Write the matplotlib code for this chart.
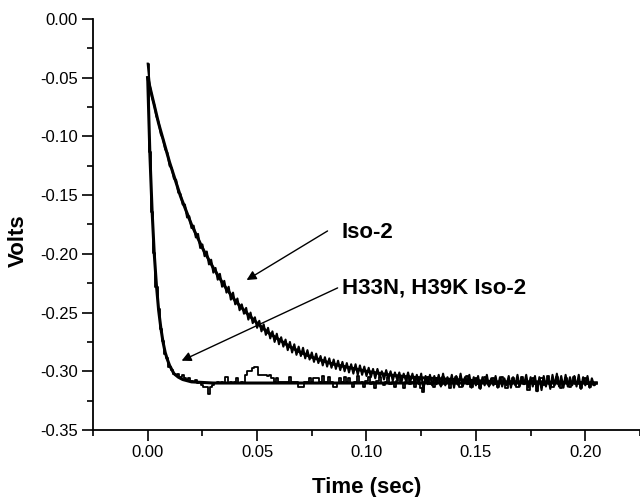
import numpy as np
import matplotlib
matplotlib.use("Agg")
import matplotlib.pyplot as plt
from matplotlib.ticker import MultipleLocator, FormatStrFormatter

plt.rcParams['font.family'] = ['Liberation Sans', 'DejaVu Sans']
plt.rcParams['axes.unicode_minus'] = False

# ---- data ----
t_step = 0.001
iso2_data = [
    -0.038, -0.057, -0.067, -0.073, -0.083, -0.088, -0.098, -0.102, -0.111, -0.114,
    -0.125, -0.127, -0.136, -0.137, -0.148, -0.149, -0.158, -0.158, -0.169, -0.168,
    -0.178, -0.176, -0.186, -0.183, -0.195, -0.192, -0.202, -0.198, -0.209, -0.205,
    -0.216, -0.212, -0.222, -0.217, -0.228, -0.223, -0.233, -0.228, -0.239, -0.233,
    -0.243, -0.238, -0.248, -0.243, -0.251, -0.246, -0.256, -0.250, -0.259, -0.254,
    -0.263, -0.257, -0.266, -0.260, -0.269, -0.263, -0.272, -0.266, -0.275, -0.268,
    -0.277, -0.271, -0.279, -0.273, -0.282, -0.275, -0.284, -0.277, -0.286, -0.279,
    -0.287, -0.280, -0.289, -0.282, -0.290, -0.284, -0.292, -0.285, -0.293, -0.287,
    -0.295, -0.288, -0.296, -0.289, -0.297, -0.290, -0.298, -0.291, -0.299, -0.292,
    -0.300, -0.293, -0.301, -0.294, -0.302, -0.294, -0.303, -0.295, -0.303, -0.296,
    -0.304, -0.297, -0.305, -0.298, -0.306, -0.298, -0.305, -0.300, -0.307, -0.299,
    -0.306, -0.300, -0.308, -0.301, -0.307, -0.301, -0.309, -0.302, -0.308, -0.301,
    -0.309, -0.302, -0.310, -0.303, -0.311, -0.302, -0.316, -0.304, -0.311, -0.303,
    -0.312, -0.304, -0.311, -0.303, -0.313, -0.302, -0.312, -0.305, -0.311, -0.303,
    -0.314, -0.304, -0.312, -0.302, -0.313, -0.305, -0.311, -0.303, -0.314, -0.305,
    -0.312, -0.304, -0.315, -0.305, -0.312, -0.303, -0.313, -0.306, -0.312, -0.304,
    -0.314, -0.305, -0.313, -0.306, -0.312, -0.304, -0.314, -0.305, -0.312, -0.303,
    -0.313, -0.305, -0.311, -0.303, -0.314, -0.305, -0.313, -0.304, -0.317, -0.305,
    -0.316, -0.304, -0.313, -0.305, -0.315, -0.303, -0.312, -0.302, -0.313, -0.304,
    -0.314, -0.303, -0.313, -0.305, -0.312, -0.304, -0.313, -0.303, -0.315, -0.305,
    -0.312, -0.304, -0.314, -0.306, -0.312, -0.310,
]
mutant_data = [
    -0.038, -0.113, -0.164, -0.199, -0.228, -0.247, -0.264, -0.274, -0.285, -0.289,
    -0.296, -0.299, -0.302, -0.303, -0.302, -0.305, -0.303, -0.306, -0.307, -0.306,
    -0.308, -0.309, -0.307, -0.310, -0.309, -0.312, -0.313, -0.313, -0.319, -0.313,
    -0.312, -0.310, -0.309, -0.310, -0.309, -0.310, -0.305, -0.310, -0.309, -0.310,
    -0.309, -0.306, -0.310, -0.309, -0.310, -0.303, -0.300, -0.300, -0.297, -0.296,
    -0.296, -0.303, -0.303, -0.303, -0.303, -0.304, -0.303, -0.306, -0.309, -0.306,
    -0.309, -0.309, -0.309, -0.309, -0.309, -0.305, -0.309, -0.309, -0.309, -0.313,
    -0.313, -0.313, -0.309, -0.309, -0.306, -0.309, -0.306, -0.306, -0.306, -0.309,
    -0.304, -0.309, -0.309, -0.305, -0.309, -0.313, -0.313, -0.310, -0.306, -0.309,
    -0.305, -0.309, -0.306, -0.310, -0.313, -0.309, -0.304, -0.310, -0.309, -0.313,
    -0.308, -0.305, -0.311, -0.309, -0.314, -0.308, -0.305, -0.310, -0.312, -0.309,
    -0.305, -0.311, -0.309, -0.313, -0.308, -0.305, -0.310, -0.314, -0.309, -0.304,
    -0.311, -0.309, -0.313, -0.306, -0.310, -0.314, -0.318, -0.309, -0.305, -0.311,
    -0.310, -0.313, -0.306, -0.310, -0.312, -0.305, -0.311, -0.309, -0.314, -0.307,
    -0.310, -0.305, -0.311, -0.313, -0.308, -0.310, -0.304, -0.311, -0.313, -0.309,
    -0.306, -0.311, -0.314, -0.309, -0.305, -0.310, -0.312, -0.309, -0.306, -0.311,
    -0.313, -0.309, -0.305, -0.310, -0.314, -0.308, -0.311, -0.306, -0.310, -0.313,
    -0.309, -0.305, -0.311, -0.309, -0.316, -0.310, -0.306, -0.311, -0.317, -0.310,
    -0.306, -0.312, -0.309, -0.304, -0.311, -0.313, -0.309, -0.305, -0.311, -0.314,
    -0.309, -0.306, -0.311, -0.313, -0.309, -0.305, -0.311, -0.309, -0.314, -0.309,
    -0.306, -0.311, -0.313, -0.309, -0.312, -0.310,
]
iso2_fit_t = [0, 0.005, 0.01, 0.015, 0.02, 0.025, 0.03, 0.035, 0.04, 0.045, 0.05,
              0.055, 0.06, 0.065, 0.07, 0.075, 0.08, 0.085, 0.09, 0.095, 0.10,
              0.11, 0.12, 0.13, 0.14, 0.16, 0.18, 0.205]
iso2_fit_v = [-0.050, -0.089, -0.122, -0.151, -0.175, -0.195, -0.212, -0.227, -0.240,
              -0.250, -0.259, -0.267, -0.273, -0.279, -0.284, -0.288, -0.291, -0.294,
              -0.296, -0.298, -0.300, -0.303, -0.305, -0.306, -0.307, -0.309, -0.309,
              -0.310]
mutant_fit_t = [0, 0.001, 0.002, 0.003, 0.004, 0.005, 0.006, 0.007, 0.008, 0.009,
                0.010, 0.012, 0.014, 0.016, 0.020, 0.030, 0.205]
mutant_fit_v = [-0.050, -0.115, -0.163, -0.200, -0.227, -0.248, -0.263, -0.275, -0.284,
                -0.290, -0.295, -0.302, -0.305, -0.307, -0.309, -0.310, -0.310]

labels = ["Iso-2", "H33N, H39K Iso-2"]
x_ticks = [0.00, 0.05, 0.10, 0.15, 0.20]
y_ticks = [0.00, -0.05, -0.10, -0.15, -0.20, -0.25, -0.30, -0.35]

t_iso = np.arange(len(iso2_data)) * t_step
t_mut = np.arange(len(mutant_data)) * t_step

fig = plt.figure(figsize=(6.4, 4.97), dpi=100)
ax = fig.add_axes([0.1453, 0.1348, 0.8547, 0.827])

ax.plot(t_iso, iso2_data, color='black', lw=1.5)
ax.plot(t_mut, mutant_data, color='black', lw=1.3, drawstyle='steps-mid')
ax.plot(iso2_fit_t, iso2_fit_v, color='black', lw=2.2)
ax.plot(mutant_fit_t, mutant_fit_v, color='black', lw=2.2)

ax.set_xlim(-0.025, 0.225)
ax.set_ylim(-0.35, 0.0)
ax.set_xticks(x_ticks)
ax.set_yticks(y_ticks)
ax.xaxis.set_minor_locator(MultipleLocator(0.025))
ax.yaxis.set_minor_locator(MultipleLocator(0.025))
ax.xaxis.set_major_formatter(FormatStrFormatter('%.2f'))
ax.yaxis.set_major_formatter(FormatStrFormatter('%.2f'))

for s in ['top', 'right']:
    ax.spines[s].set_visible(False)
for s in ['left', 'bottom']:
    ax.spines[s].set_linewidth(1.3)
ax.tick_params(which='major', direction='out', length=8, width=1.2, labelsize=12, pad=3)
ax.tick_params(which='minor', direction='out', length=4.5, width=1.2)

ax.set_xlabel("Time (sec)", fontsize=16, fontweight='bold')
ax.set_ylabel("Volts", fontsize=16, fontweight='bold')
ax.xaxis.set_label_coords(0.5, -0.139)
ax.xaxis.label.set_va('center')
ax.yaxis.set_label_coords(-0.137, 0.46)
ax.yaxis.label.set_va('center')

ax.annotate("", xy=(0.0452, -0.2223), xytext=(0.0822, -0.1805),
            arrowprops=dict(arrowstyle='-|>', color='black', lw=1.0,
                            mutation_scale=14, shrinkA=0, shrinkB=0))
ax.annotate("", xy=(0.0155, -0.291), xytext=(0.0868, -0.229),
            arrowprops=dict(arrowstyle='-|>', color='black', lw=1.0,
                            mutation_scale=14, shrinkA=0, shrinkB=0))
ax.text(0.0886, -0.1814, labels[0], fontsize=16, fontweight='bold',
        ha='left', va='center')
ax.text(0.089, -0.229, labels[1], fontsize=16, fontweight='bold',
        ha='left', va='center')

fig.savefig("out.png", dpi=100)
